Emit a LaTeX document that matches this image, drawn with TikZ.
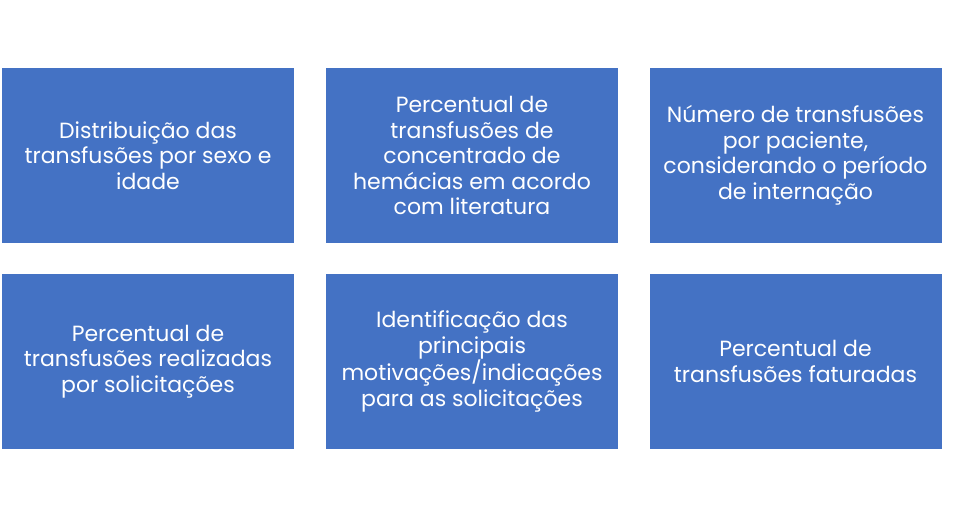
\documentclass[tikz,border=0pt]{standalone}
\usepackage{fontspec}
\setmainfont{Poppins}
\definecolor{boxblue}{HTML}{4472C4}
\begin{document}
\begin{tikzpicture}[x=1pt,y=-1pt,
  box/.style={fill=boxblue,draw=none,minimum width=292pt,minimum height=175pt,inner sep=0pt,
    text=white,align=center,font=\fontsize{22}{25.5}\selectfont}]
\useasboundingbox (0,0) rectangle (953,517);
\node[box] (b1) at (148,155.5) {Distribuição das\\transfusões por sexo e\\idade};
\node[box] (b2) at (472,155.5) {Percentual de\\transfusões de\\concentrado de\\hemácias em acordo\\com literatura};
\node[box] (b3) at (795.5,155.5) {Número de transfusões\\por paciente,\\considerando o período\\de internação};
\node[box] (b4) at (148,361.5) {Percentual de\\transfusões realizadas\\por solicitações};
\node[box] (b5) at (472,361.5) {Identificação das\\principais\\motivações/indicações\\para as solicitações};
\node[box] (b6) at (795.5,361.5) {Percentual de\\transfusões faturadas};
\end{tikzpicture}
\end{document}
